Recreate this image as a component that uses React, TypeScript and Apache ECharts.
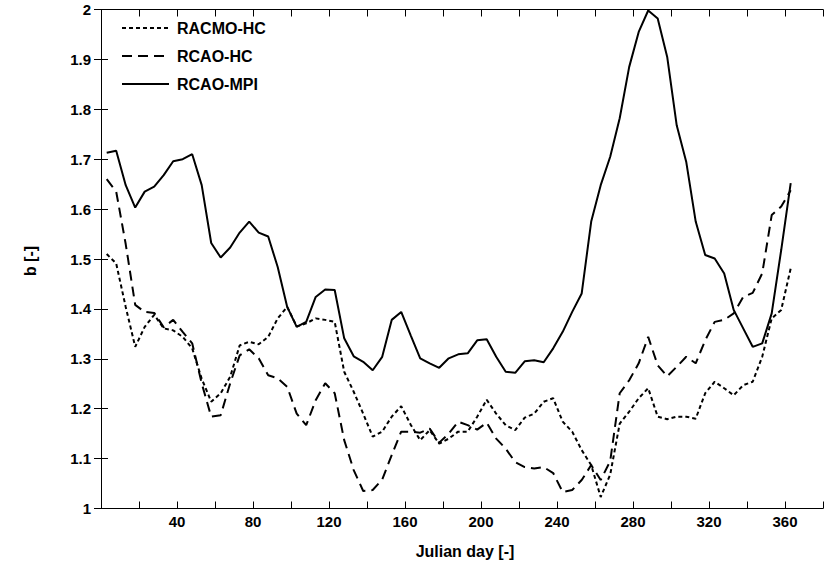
import React, { useEffect, useRef } from "react";
import * as echarts from "echarts";

const days = [
  3, 8, 13, 18, 23, 28, 33, 38, 43, 48,
  53, 58, 63, 68, 73, 78, 83, 88, 93, 98,
  103, 108, 113, 118, 123, 128, 133, 138, 143, 148,
  153, 158, 163, 168, 173, 178, 183, 188, 193, 198,
  203, 208, 213, 218, 223, 228, 233, 238, 243, 248,
  253, 258, 263, 268, 273, 278, 283, 288, 293, 298,
  303, 308, 313, 318, 323, 328, 333, 338, 343, 348,
  353, 358, 363,
];

const racmoHC = [
  1.510, 1.491, 1.404, 1.324, 1.364, 1.388, 1.361, 1.357, 1.344, 1.321,
  1.260, 1.214, 1.231, 1.264, 1.327, 1.334, 1.329, 1.344, 1.381, 1.404,
  1.365, 1.371, 1.381, 1.378, 1.374, 1.274, 1.234, 1.190, 1.144, 1.154,
  1.184, 1.205, 1.168, 1.137, 1.157, 1.130, 1.140, 1.154, 1.154, 1.184,
  1.218, 1.190, 1.167, 1.157, 1.182, 1.190, 1.214, 1.221, 1.174, 1.154,
  1.117, 1.087, 1.023, 1.068, 1.170, 1.194, 1.221, 1.241, 1.184, 1.179,
  1.184, 1.184, 1.180, 1.231, 1.254, 1.241, 1.227, 1.247, 1.254, 1.304,
  1.381, 1.398, 1.481,
];

const rcaoHC = [
  1.660, 1.635, 1.530, 1.408, 1.394, 1.392, 1.363, 1.378, 1.354, 1.331,
  1.251, 1.184, 1.187, 1.251, 1.307, 1.319, 1.301, 1.267, 1.261, 1.244,
  1.190, 1.167, 1.217, 1.251, 1.231, 1.137, 1.077, 1.035, 1.037, 1.058,
  1.107, 1.154, 1.154, 1.152, 1.160, 1.132, 1.150, 1.174, 1.167, 1.158,
  1.172, 1.140, 1.120, 1.093, 1.083, 1.080, 1.083, 1.071, 1.033, 1.037,
  1.057, 1.087, 1.057, 1.095, 1.231, 1.257, 1.291, 1.344, 1.287, 1.265,
  1.284, 1.304, 1.291, 1.337, 1.374, 1.378, 1.391, 1.424, 1.432, 1.471,
  1.588, 1.605, 1.638,
];

const rcaoMPI = [
  1.713, 1.717, 1.648, 1.603, 1.635, 1.645, 1.668, 1.696, 1.700, 1.710,
  1.648, 1.532, 1.503, 1.523, 1.553, 1.575, 1.553, 1.545, 1.484, 1.404,
  1.364, 1.374, 1.424, 1.439, 1.438, 1.341, 1.305, 1.294, 1.277, 1.304,
  1.378, 1.394, 1.347, 1.301, 1.291, 1.282, 1.301, 1.309, 1.311, 1.337,
  1.339, 1.304, 1.274, 1.272, 1.295, 1.297, 1.293, 1.321, 1.354, 1.394,
  1.431, 1.575, 1.648, 1.705, 1.782, 1.885, 1.955, 1.998, 1.982, 1.905,
  1.768, 1.695, 1.575, 1.508, 1.501, 1.471, 1.398, 1.361, 1.324, 1.331,
  1.391, 1.518, 1.652,
];

const seriesNames = ["RACMO-HC", "RCAO-HC", "RCAO-MPI"];
const xTitle = "Julian day [-]";
const yTitle = "b [-]";

const FONT = '"Liberation Sans", Arial, Helvetica, sans-serif';

export default function App() {
  const ref = useRef<HTMLDivElement>(null);

  useEffect(() => {
    if (!ref.current) return;
    const chart = echarts.init(ref.current, undefined, { renderer: "svg" });

    const tickStyle = { show: true, inside: true, length: 7, lineStyle: { color: "#000", width: 1 } };
    const lineAxis = { show: true, lineStyle: { color: "#000", width: 1 } };
    const labelFont = { color: "#000", fontSize: 15, fontWeight: "bold" as const, fontFamily: FONT };

    const mk = (name: string, vals: number[], type: any) => ({
      name,
      type: "line",
      xAxisIndex: 0,
      yAxisIndex: 0,
      data: days.map((d, i) => [d, vals[i]]),
      symbol: "none",
      showSymbol: false,
      lineStyle: { color: "#000", width: 2, type },
      itemStyle: { color: "#000" },
      z: 3,
    });

    chart.setOption({
      animation: false,
      backgroundColor: "#fff",
      grid: { left: 101, top: 9.5, width: 729, height: 499, containLabel: false },
      legend: {
        show: true,
        orient: "vertical",
        left: 116,
        top: 15,
        itemWidth: 47,
        itemHeight: 14,
        itemGap: 12,
        data: seriesNames,
        itemStyle: { opacity: 0 },
        textStyle: { color: "#000", fontSize: 16, fontWeight: "bold", fontFamily: FONT, lineHeight: 16, padding: [0, 0, 0, 3] },
      },
      xAxis: [
        {
          type: "value",
          position: "bottom",
          min: 0,
          max: 380,
          interval: 20,
          axisLine: lineAxis,
          axisTick: tickStyle,
          splitLine: { show: false },
          axisLabel: {
            ...labelFont,
            margin: 5,
            formatter: (v: number) => (v > 0 && v < 380 && v % 40 === 0 ? String(v) : ""),
          },
        },
        {
          type: "value",
          position: "top",
          min: 0,
          max: 380,
          interval: 20,
          axisLine: lineAxis,
          axisTick: tickStyle,
          splitLine: { show: false },
          axisLabel: { show: false },
        },
      ],
      yAxis: [
        {
          type: "value",
          position: "left",
          min: 1,
          max: 2,
          interval: 0.1,
          axisLine: lineAxis,
          axisTick: tickStyle,
          splitLine: { show: false },
          axisLabel: {
            ...labelFont,
            margin: 10,
            formatter: (v: number) => String(Math.round(v * 10) / 10),
          },
        },
        {
          type: "value",
          position: "right",
          min: 1,
          max: 2,
          interval: 0.1,
          axisLine: lineAxis,
          axisTick: tickStyle,
          splitLine: { show: false },
          axisLabel: { show: false },
        },
      ],
      graphic: [
        {
          type: "text",
          x: 30,
          y: 261,
          rotation: Math.PI / 2,
          style: {
            text: yTitle,
            font: `bold 16px ${FONT}`,
            fill: "#000",
            align: "center",
            verticalAlign: "middle",
          },
        },
        {
          type: "text",
          x: 465,
          y: 551,
          style: {
            text: xTitle,
            font: `bold 16px ${FONT}`,
            fill: "#000",
            align: "center",
            verticalAlign: "middle",
          },
        },
      ],
      series: [
        mk(seriesNames[0], racmoHC, [4, 3]),
        mk(seriesNames[1], rcaoHC, [10, 6]),
        mk(seriesNames[2], rcaoMPI, "solid"),
      ],
    });

    return () => chart.dispose();
  }, []);

  return (
    <div
      ref={ref}
      style={{ position: "fixed", left: 0, top: 0, width: 826, height: 571, background: "#fff" }}
    />
  );
}
